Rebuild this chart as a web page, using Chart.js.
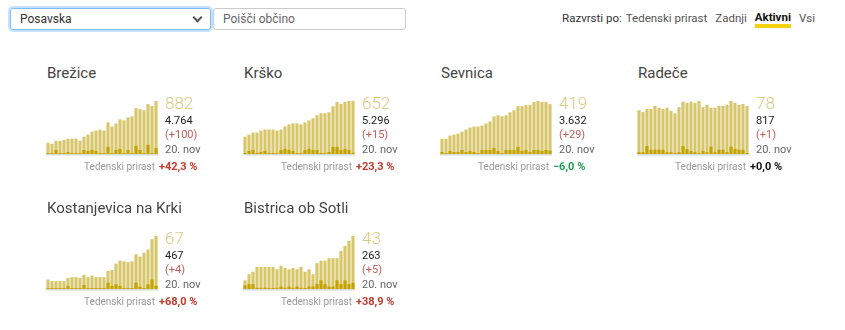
<!DOCTYPE html>
<html>
<head>
<meta charset="utf-8">
<script src="https://cdn.jsdelivr.net/npm/chart.js@4/dist/chart.umd.min.js"></script>
<style>
  body { margin: 0; background: #fff; font-family: Roboto, "Noto Sans", sans-serif; width: 845px; height: 330px; position: relative; overflow: hidden; }
  .select { position: absolute; left: 10px; top: 8px; width: 190px; height: 20px; border: 1px solid #80bdff; border-radius: 3px; box-shadow: 0 0 0 2px rgba(0,123,255,.22); font-size: 12px; color: #333; line-height: 20px; padding-left: 9px; box-sizing: content-box; }
  .select .chev { position: absolute; right: 9px; top: 5px; width: 5px; height: 5px; border-right: 2px solid #555; border-bottom: 2px solid #555; transform: rotate(45deg); }
  .search { position: absolute; left: 213px; top: 8px; width: 182px; height: 20px; border: 1px solid #ccc; border-radius: 3px; font-size: 12px; color: #666; line-height: 20px; padding-left: 9px; }
  .sort { position: absolute; top: 11px; right: 30px; font-size: 11.5px; color: #555; white-space: nowrap; display: flex; }
  .sort span { position: relative; margin-left: 8px; }
  .sort span:first-child { margin-left: 0; color: #333; margin-right: -4px; }
  .sort .on { color: #111; font-weight: bold; border-bottom: 4px solid #f5d10f; line-height: 13px; }
  .card { position: absolute; width: 190px; height: 120px; }
  .card h3 { position: absolute; margin: 0; left: 0; top: 4px; font-size: 15px; font-weight: normal; color: #444; line-height: 18px; white-space: nowrap; }
  .card canvas { position: absolute; left: -1px; top: 41px; }
  .big { position: absolute; left: 118px; top: 34px; font-size: 17px; font-weight: 300; color: #dac97f; line-height: 18px; }
  .tot { position: absolute; left: 118px; top: 54px; font-size: 11px; color: #222; line-height: 14px; }
  .chg { position: absolute; left: 118px; top: 68px; font-size: 11px; color: #c0605a; line-height: 14px; }
  .date { position: absolute; left: 118px; top: 83px; font-size: 11px; color: #666; line-height: 14px; }
  .wk { position: absolute; right: 82px; top: 100px; font-size: 10px; color: #999; line-height: 14px; white-space: nowrap; }
  .pct { position: absolute; left: 112px; top: 100px; font-size: 11px; font-weight: bold; line-height: 14px; white-space: nowrap; }
</style>
</head>
<body>
<div class="select">Posavska<div class="chev"></div></div>
<div class="search">Poišči občino</div>
<div class="sort">
  <span>Razvrsti po:</span>
  <span>Tedenski prirast</span>
  <span>Zadnji</span>
  <span class="on">Aktivni</span>
  <span>Vsi</span>
</div>
<div id="cards"></div>
<script>
const days = ['24. okt', '25. okt', '26. okt', '27. okt', '28. okt', '29. okt', '30. okt', '31. okt',
  '1. nov', '2. nov', '3. nov', '4. nov', '5. nov', '6. nov', '7. nov', '8. nov', '9. nov', '10. nov',
  '11. nov', '12. nov', '13. nov', '14. nov', '15. nov', '16. nov', '17. nov', '18. nov', '19. nov', '20. nov'];

const municipalities = ['Brežice', 'Krško', 'Sevnica', 'Radeče', 'Kostanjevica na Krki', 'Bistrica ob Sotli'];

// active cases (light bars) and daily new cases (dark bars)
const activeBrezice = [187, 170, 220, 220, 237, 254, 254, 254, 220, 288, 322, 373, 390, 407, 390, 526, 458, 509, 577, 560, 610, 627, 763, 746, 729, 831, 797, 882];
const newBrezice = [0, 0, 68, 17, 17, 34, 0, 0, 0, 68, 51, 68, 51, 17, 0, 119, 17, 68, 85, 17, 68, 0, 136, 68, 17, 153, 17, 100];
const activeKrsko = [213, 238, 263, 263, 288, 301, 301, 301, 288, 301, 339, 364, 376, 376, 364, 389, 414, 439, 477, 502, 502, 514, 589, 640, 615, 640, 652, 652];
const newKrsko = [0, 38, 50, 13, 25, 38, 0, 0, 0, 50, 63, 50, 38, 0, 13, 50, 63, 50, 50, 13, 13, 25, 88, 88, 50, 63, 50, 15];
const activeSevnica = [128, 128, 154, 162, 171, 188, 205, 222, 231, 231, 239, 256, 273, 316, 325, 316, 325, 350, 367, 402, 402, 410, 410, 436, 445, 436, 436, 419];
const newSevnica = [17, 0, 26, 17, 17, 34, 17, 26, 17, 0, 34, 34, 34, 51, 26, 0, 34, 34, 34, 60, 26, 34, 17, 34, 34, 26, 34, 29];
const activeRadece = [71, 68, 73, 73, 78, 75, 73, 75, 70, 66, 76, 85, 83, 85, 83, 86, 76, 80, 75, 75, 78, 78, 80, 86, 83, 80, 81, 78];
const newRadece = [3, 3, 13, 7, 7, 7, 7, 3, 3, 0, 3, 13, 8, 5, 3, 0, 5, 3, 12, 3, 7, 7, 3, 12, 8, 7, 7, 1];
const activeKostanjevica = [12, 10, 10, 10, 10, 14, 15, 15, 14, 18, 15, 17, 15, 15, 15, 23, 24, 32, 36, 35, 34, 35, 44, 41, 46, 50, 63, 67];
const newKostanjevica = [1, 0, 1, 0, 0, 4, 0, 0, 0, 5, 0, 0, 1, 0, 0, 8, 4, 6, 4, 1, 0, 1, 8, 3, 0, 6, 12, 4];
const activeBistrica = [7, 12, 14, 18, 18, 18, 18, 18, 16, 19, 17, 16, 17, 16, 18, 14, 16, 12, 21, 23, 23, 25, 25, 25, 31, 35, 39, 43];
const newBistrica = [3, 4, 4, 1, 1, 1, 0, 0, 1, 2, 1, 2, 1, 2, 1, 0, 2, 2, 4, 7, 4, 2, 2, 7, 4, 7, 4, 5];

const totals = [4764, 5296, 3632, 817, 467, 263];
const weeklyGrowth = [42.3, 23.3, -6.0, 0.0, 68.0, 38.9];

const activeSeries = [activeBrezice, activeKrsko, activeSevnica, activeRadece, activeKostanjevica, activeBistrica];
const newSeries = [newBrezice, newKrsko, newSevnica, newRadece, newKostanjevica, newBistrica];

function fmt(n) {
  return String(n).replace(/\B(?=(\d{3})+(?!\d))/g, '.');
}
function fmtPct(p) {
  let s = Math.abs(p).toFixed(1).replace('.', ',') + ' %';
  if (p < 0) return '\u2212' + s;
  return '+' + s;
}

// thin grey baseline under the bars
const baseline = {
  id: 'baseline',
  beforeDatasetsDraw(chart) {
    const { ctx, chartArea } = chart;
    ctx.save();
    ctx.fillStyle = '#d9d9d9';
    ctx.fillRect(chartArea.left, chartArea.bottom, chartArea.right - chartArea.left, 1.5);
    ctx.restore();
  }
};

const cards = document.getElementById('cards');

municipalities.forEach((name, i) => {
  const active = activeSeries[i];
  const daily = newSeries[i];
  const last = daily[daily.length - 1];

  const card = document.createElement('div');
  card.className = 'card';
  card.style.left = (47 + (i % 4) * 197) + 'px';
  card.style.top = (60 + Math.floor(i / 4) * 135) + 'px';
  const p = weeklyGrowth[i];
  const pctColor = p > 0 ? '#c0392b' : (p < 0 ? '#1f9e55' : '#111');
  card.innerHTML =
    `<h3>${name}</h3>
    <canvas width="112" height="55"></canvas>
    <div class="big">${fmt(active[active.length - 1])}</div>
    <div class="tot">${fmt(totals[i])}</div>
    <div class="chg">(+${last})</div>
    <div class="date">${days[days.length - 1]}</div>
    <div class="wk">Tedenski prirast</div>
    <div class="pct" style="color:${pctColor}">${fmtPct(p)}</div>`;
  cards.appendChild(card);

  const ctx = card.querySelector('canvas').getContext('2d');
  new Chart(ctx, {
    type: 'bar',
    data: {
      labels: days,
      datasets: [{
        label: 'Novi',
        data: daily,
        backgroundColor: '#c2a300',
        minBarLength: 1,
        clip: false,
        order: 0
      }, {
        label: 'Aktivni',
        data: active,
        backgroundColor: '#d8c66a',
        order: 1
      }]
    },
    options: {
      responsive: false,
      animation: false,
      layout: { padding: { bottom: 2, left: 0, right: 0, top: 0 } },
      datasets: { bar: { categoryPercentage: 1, barPercentage: 0.78 } },
      plugins: { legend: { display: false }, tooltip: { enabled: false } },
      scales: {
        x: { display: false, stacked: true },
        y: { display: false, stacked: false, min: 0, max: Math.max(...active) }
      }
    },
    plugins: [baseline]
  });
});
</script>
</body>
</html>
